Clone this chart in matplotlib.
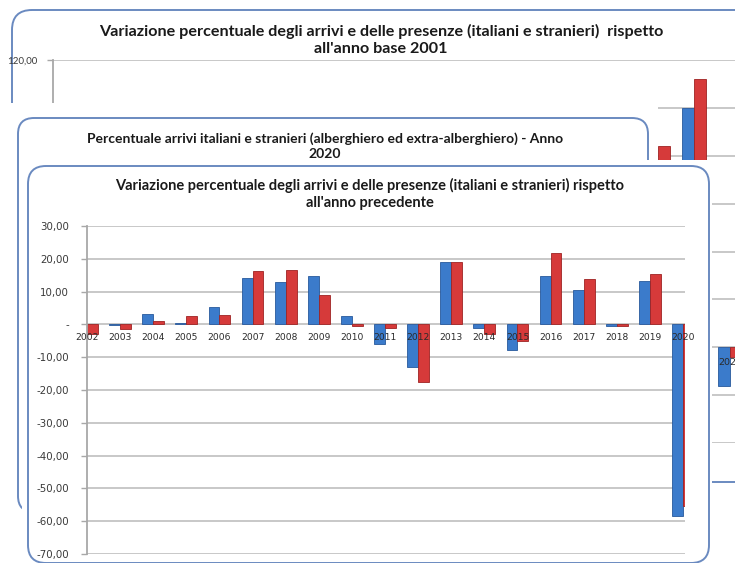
import matplotlib
matplotlib.use("Agg")
import matplotlib.pyplot as plt
import numpy as np
from matplotlib.patches import FancyBboxPatch, Rectangle

# ---------------- data ----------------
years = [str(y) for y in range(2002, 2021)]
# variation vs previous year (panel in front)
arrivi_prec = [0.0, -0.2, 3.1, 0.5, 5.2, 14.0, 12.9, 14.8, 2.7, -6.0,
               -13.0, 19.0, -1.0, -7.8, 14.7, 10.4, -0.5, 13.1, -58.4]
presenze_prec = [-3.0, -1.5, 0.9, 2.7, 2.9, 16.3, 16.6, 8.9, -0.6, -1.2,
                 -17.5, 19.0, -2.9, -5.0, 21.8, 13.9, -0.4, 15.4, -55.3]

# variation vs base year 2001 (panel behind, only the visible bars)
base_years = ["2018", "2019", "2020"]
arrivi_base = [np.nan, 100.0, -16.0]
presenze_base = [84.0, 112.0, -4.0]

title_a = ("Variazione percentuale degli arrivi e delle presenze (italiani e stranieri)  rispetto\n"
           "all'anno base 2001")
title_b = ("Percentuale arrivi italiani e stranieri (alberghiero ed extra-alberghiero) - Anno\n"
           "2020")
title_c = ("Variazione percentuale degli arrivi e delle presenze (italiani e stranieri) rispetto\n"
           "all'anno precedente")

# ---------------- style ----------------
W, H = 735, 563
BLUE, BLUE_E = "#3B7BCB", "#28599C"
RED, RED_E = "#D63A3A", "#9E2323"
BORDER = "#6A8AC0"
GRID = "#C4C4C4"
AXISC = "#A8A8A8"
TXT = "#3A3A3A"
TFONT = ["Lato", "DejaVu Sans"]

fig = plt.figure(figsize=(W / 100, H / 100), dpi=100)
fig.patch.set_facecolor("white")


def px_axes(l, t, r, b, z):
    return fig.add_axes([l / W, 1 - b / H, (r - l) / W, (b - t) / H], zorder=z)


def overlay(z):
    ax = fig.add_axes([0, 0, 1, 1], zorder=z)
    ax.set_xlim(0, W)
    ax.set_ylim(H, 0)
    ax.axis("off")
    return ax


def fmt(v):
    if v == 0:
        return "-"
    return f"{v:.2f}".replace(".", ",")


def style_axes(ax, ylo, yhi, step, lsize, lfamily):
    ax.set_ylim(ylo, yhi)
    ticks = np.arange(ylo, yhi + 0.1, step)
    ax.set_yticks(ticks)
    ax.set_yticklabels([fmt(t) for t in ticks], fontsize=lsize, color=TXT,
                       family=lfamily)
    ax.set_xticks([])
    for s in ["top", "right", "bottom"]:
        ax.spines[s].set_visible(False)
    ax.spines["left"].set_color(AXISC)
    ax.spines["left"].set_linewidth(1.3)
    ax.tick_params(axis="y", length=4, width=1.0, color=AXISC, pad=7)
    ax.yaxis.grid(True, color=GRID, linewidth=1.3)
    ax.set_axisbelow(True)
    ax.patch.set_alpha(0)


# ---------------- panel A (back) ----------------
oa = overlay(0)
oa.add_patch(FancyBboxPatch((12, 10), 760, 472, boxstyle="round,pad=0,rounding_size=20",
                            fc="white", ec=BORDER, lw=1.4))
oa.text(381, 40, title_a, ha="center", va="center", fontsize=11.6, fontweight="bold",
        family=TFONT, color="#1A1A1A", linespacing=1.2)

axa = px_axes(53, 60, 735, 443, 1)
style_axes(axa, -40, 120, 20, 7.0, TFONT)
axa.tick_params(axis="y", pad=7)
wa = 0.333
xa = np.array([years.index(y) for y in base_years], dtype=float)
axa.bar(xa - wa / 2, arrivi_base, wa, color=BLUE, edgecolor=BLUE_E, linewidth=0.6)
axa.bar(xa + wa / 2, presenze_base, wa, color=RED, edgecolor=RED_E, linewidth=0.6)
axa.set_xlim(-0.806, 18.139)
for x, y in zip(xa, base_years):
    axa.text(x, -6.3, y, ha="center", va="center", fontsize=6.8, color="#2A2A2A",
             family="DejaVu Sans", zorder=5)

# ---------------- panel B (middle) ----------------
ob = overlay(2)
ob.add_patch(Rectangle((0, 103), 658, 412, fc="white", ec="none"))
ob.add_patch(FancyBboxPatch((18, 118), 630, 394, boxstyle="round,pad=0,rounding_size=16",
                            fc="white", ec=BORDER, lw=1.4))
ob.text(325, 146, title_b, ha="center", va="center", fontsize=10.0, fontweight="bold",
        family=TFONT, color="#1A1A1A", linespacing=1.28)

# ---------------- panel C (front) ----------------
oc = overlay(3)
oc.add_patch(Rectangle((22, 160), 690, 403, fc="white", ec="none"))
oc.add_patch(FancyBboxPatch((28, 166), 681, 397, boxstyle="round,pad=0,rounding_size=18",
                            fc="white", ec=BORDER, lw=1.4))
oc.text(370, 194, title_c, ha="center", va="center", fontsize=10.5, fontweight="bold",
        family=TFONT, color="#1A1A1A", linespacing=1.2)

axc = px_axes(87, 226, 685, 554, 4)
style_axes(axc, -70, 30, 10, 7.4, "DejaVu Sans")
axc.tick_params(axis="y", pad=9)
wc = 0.33
xc = np.arange(len(years), dtype=float)
axc.bar(xc - wc / 2, arrivi_prec, wc, color=BLUE, edgecolor=BLUE_E, linewidth=0.6)
axc.bar(xc + wc / 2, presenze_prec, wc, color=RED, edgecolor=RED_E, linewidth=0.6)
axc.set_xlim(0, 18.06)
for x, y in zip(xc, years):
    axc.text(x, -4.0, y, ha="center", va="center", fontsize=6.6, color="#2A2A2A",
             family="DejaVu Sans", zorder=5)

fig.savefig("out.png", dpi=100, facecolor="white")
